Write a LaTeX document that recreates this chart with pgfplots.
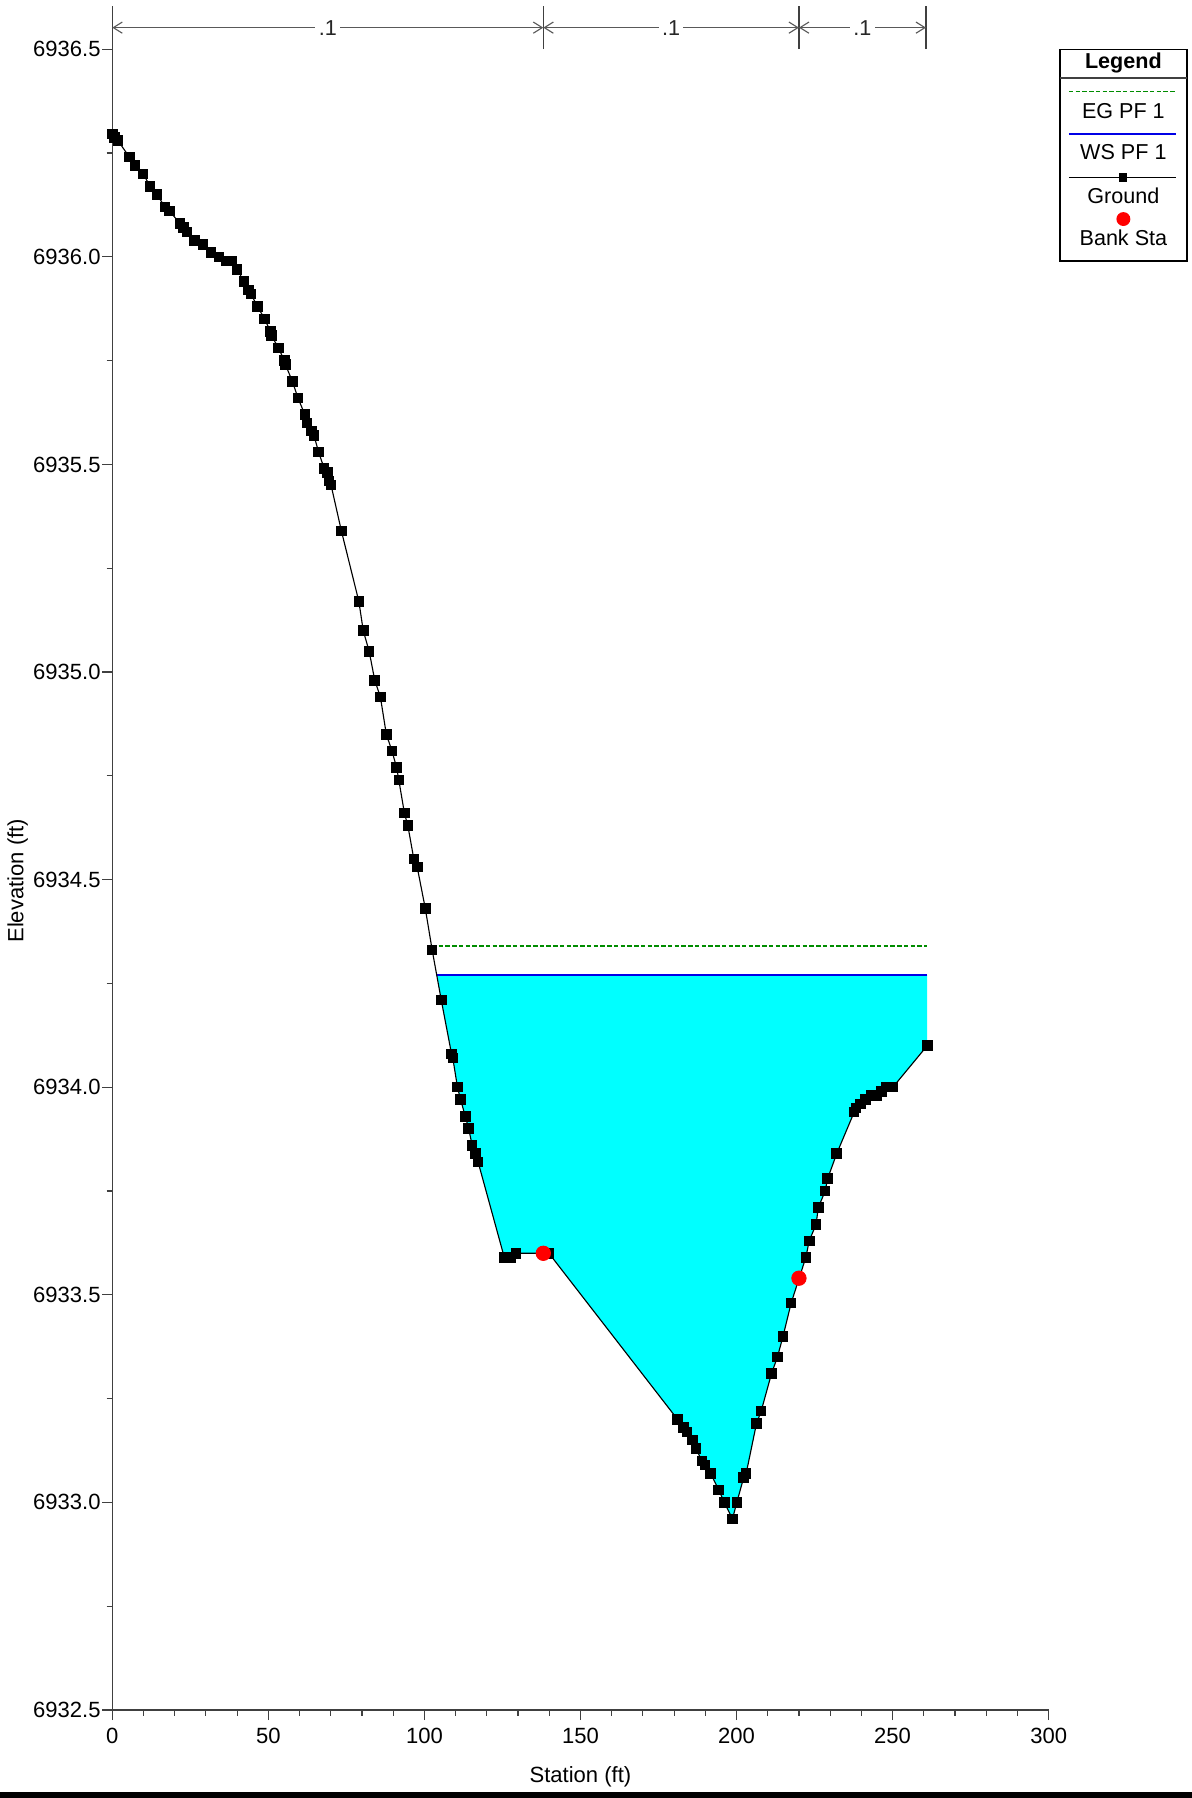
\documentclass[border=0pt]{standalone}
\usepackage{fontspec}
\setmainfont{Liberation Sans}
\usepackage{pgfplots}
\usepackage{pgfplotstable}
\pgfplotsset{compat=1.18}
\usetikzlibrary{arrows.meta}
\definecolor{wsfill}{RGB}{0,255,255}
\definecolor{eggreen}{RGB}{0,140,0}
\definecolor{wsblue}{RGB}{0,0,230}

\pgfplotstableread{
x y
0 6936.296
0.7 6936.287
1.8 6936.28
5.5 6936.24
7.3 6936.22
9.9 6936.20
12.1 6936.17
14.3 6936.15
16.9 6936.12
18.4 6936.11
21.7 6936.08
22.8 6936.07
23.9 6936.06
26.4 6936.04
29.0 6936.03
31.6 6936.01
34.2 6936.00
36.4 6935.99
38.2 6935.99
40.0 6935.97
42.2 6935.94
43.7 6935.92
44.4 6935.91
46.6 6935.88
48.8 6935.85
50.7 6935.82
51.0 6935.81
53.3 6935.78
55.1 6935.75
55.5 6935.74
57.7 6935.70
59.5 6935.66
61.7 6935.62
62.4 6935.60
63.9 6935.58
64.6 6935.57
66.1 6935.53
67.9 6935.49
69.0 6935.48
69.4 6935.46
70.1 6935.45
73.4 6935.34
79.0 6935.17
80.4 6935.10
82.3 6935.05
84.1 6934.98
85.9 6934.94
87.8 6934.85
89.6 6934.81
91.1 6934.77
91.8 6934.74
93.6 6934.66
94.7 6934.63
96.6 6934.55
97.7 6934.53
100.3 6934.43
102.5 6934.33
105.4 6934.21
108.7 6934.08
109.1 6934.07
110.6 6934.00
111.6 6933.97
113.1 6933.93
114.2 6933.90
115.3 6933.86
116.4 6933.84
117.2 6933.82
125.6 6933.59
127.8 6933.59
129.3 6933.60
139.9 6933.60
181.1 6933.20
183.0 6933.18
184.1 6933.17
185.9 6933.15
187.0 6933.13
188.9 6933.10
189.9 6933.09
191.7 6933.07
194.3 6933.03
196.1 6933.00
198.7 6932.96
200.1 6933.00
202.3 6933.06
203.1 6933.07
206.4 6933.19
207.9 6933.22
211.2 6933.31
213.1 6933.35
214.9 6933.40
217.5 6933.48
222.2 6933.59
223.3 6933.63
225.5 6933.67
226.2 6933.71
228.4 6933.75
229.2 6933.78
232.1 6933.84
237.7 6933.94
238.3 6933.95
239.8 6933.96
241.3 6933.97
243.1 6933.98
244.9 6933.98
246.4 6933.99
247.9 6934.00
249.0 6934.00
250.1 6934.00
261.1 6934.10
}\ground

\pgfplotstableread{
x y
104.0 6934.271
105.4 6934.21
108.7 6934.08
109.1 6934.07
110.6 6934.00
111.6 6933.97
113.1 6933.93
114.2 6933.90
115.3 6933.86
116.4 6933.84
117.2 6933.82
125.6 6933.59
127.8 6933.59
129.3 6933.60
139.9 6933.60
181.1 6933.20
183.0 6933.18
184.1 6933.17
185.9 6933.15
187.0 6933.13
188.9 6933.10
189.9 6933.09
191.7 6933.07
194.3 6933.03
196.1 6933.00
198.7 6932.96
200.1 6933.00
202.3 6933.06
203.1 6933.07
206.4 6933.19
207.9 6933.22
211.2 6933.31
213.1 6933.35
214.9 6933.40
217.5 6933.48
222.2 6933.59
223.3 6933.63
225.5 6933.67
226.2 6933.71
228.4 6933.75
229.2 6933.78
232.1 6933.84
237.7 6933.94
238.3 6933.95
239.8 6933.96
241.3 6933.97
243.1 6933.98
244.9 6933.98
246.4 6933.99
247.9 6934.00
249.0 6934.00
250.1 6934.00
261.1 6934.10
261.1 6934.271
}\water

\begin{document}
\begin{tikzpicture}[font=\fontsize{9.6}{11.5}\selectfont]
\path[use as bounding box] (-49.97pt,-39.16pt) rectangle (480.47pt,761.0pt);
\fill[black] (-49.97pt,-39.16pt) rectangle (480.47pt,-36.6pt);
\begin{axis}[
  at={(0pt,0pt)}, anchor=south west,
  scale only axis, width=416.7pt, height=758.3pt,
  xmin=0, xmax=300, ymin=6932.5, ymax=6936.604,
  axis lines=left,
  axis line style={-, black!75, line width=0.5pt},
  clip=false,
  xtick={0,50,100,150,200,250,300},
  minor x tick num=4,
  ytick={6932.5,6933.0,6933.5,6934.0,6934.5,6935.0,6935.5,6936.0,6936.5},
  minor y tick num=1,
  tick align=outside,
  major tick length=4.5pt,
  minor tick length=2.5pt,
  tick style={black!75, line width=0.5pt},
  /pgf/number format/assume math mode=true,
  yticklabel style={xshift=2.8pt, /pgf/number format/.cd, fixed, fixed zerofill, precision=1, 1000 sep={}},
  xticklabel style={/pgf/number format/.cd, fixed, precision=0, 1000 sep={}},
  ticklabel style={font=\fontsize{9.8}{12}\selectfont},
  xlabel={Station (ft)},
  ylabel={Elevation (ft)},
  every axis x label/.style={at={(axis description cs:0.5,-0.0390)}, anchor=center, font=\fontsize{9.8}{12}\selectfont},
  every axis y label/.style={at={(axis description cs:-0.101,0.4866)}, rotate=90, anchor=center, font=\fontsize{9.8}{12}\selectfont},
]
% water fill
\addplot[fill=wsfill, draw=none, forget plot] table[x=x,y=y] {\water} -- cycle;
% EG
\addplot[eggreen, dashed, dash pattern=on 2pt off 1pt, line width=0.5pt] coordinates {(102.4,6934.34) (261.1,6934.34)};
% WS
\addplot[wsblue, line width=0.8pt] coordinates {(104.0,6934.271) (261.1,6934.271)};
% Ground
\addplot[black, line width=0.5pt, mark=square*, mark size=2.1pt, mark options={fill=black}] table[x=x,y=y] {\ground};
% Bank stations
\addplot[only marks, mark=*, mark size=3.2pt, color=red, fill=red] coordinates {(138.1,6933.60) (220.0,6933.54)};

% Manning's n dimension lines
\draw[black!75, line width=0.5pt] (axis cs:138.1,6936.5) -- (axis cs:138.1,6936.604);
\draw[black!75, line width=0.5pt] (axis cs:220.0,6936.5) -- (axis cs:220.0,6936.604);
\draw[black!75, line width=0.5pt] (axis cs:260.7,6936.5) -- (axis cs:260.7,6936.604);
\draw[black!65, line width=0.5pt, {Straight Barb[length=4pt,width=5pt]}-{Straight Barb[length=4pt,width=5pt]}]
  (axis cs:0,6936.552) -- (axis cs:138.1,6936.552) node[midway, fill=white, inner sep=1.5pt, text=black!85] {.1};
\draw[black!65, line width=0.5pt, {Straight Barb[length=4pt,width=5pt]}-{Straight Barb[length=4pt,width=5pt]}]
  (axis cs:138.1,6936.552) -- (axis cs:220.0,6936.552) node[midway, fill=white, inner sep=1.5pt, text=black!85] {.1};
\draw[black!65, line width=0.5pt, {Straight Barb[length=4pt,width=5pt]}-{Straight Barb[length=4pt,width=5pt]}]
  (axis cs:220.0,6936.552) -- (axis cs:260.7,6936.552) node[midway, fill=white, inner sep=1.5pt, text=black!85] {.1};

% Legend
\draw[black, line width=0.6pt] (axis cs:303.6,6936.5) rectangle (axis cs:344.3,6935.99);
\draw[black!75, line width=0.6pt] (axis cs:303.6,6936.431) -- (axis cs:344.3,6936.431);
\node at (axis cs:323.95,6936.466) {\bfseries Legend};
\draw[eggreen, dash pattern=on 2pt off 1pt, line width=0.5pt] (axis cs:306.5,6936.398) -- (axis cs:340.8,6936.398);
\node at (axis cs:323.95,6936.351) {EG PF 1};
\draw[wsblue, line width=0.6pt] (axis cs:306.5,6936.296) -- (axis cs:340.8,6936.296);
\node at (axis cs:323.95,6936.253) {WS PF 1};
\draw[black, line width=0.5pt] (axis cs:306.5,6936.191) -- (axis cs:340.8,6936.191);
\node[fill=black, minimum size=3.6pt, inner sep=0pt] at (axis cs:323.95,6936.191) {};
\node at (axis cs:323.95,6936.147) {Ground};
\node[circle, fill=red, minimum size=6.2pt, inner sep=0pt] at (axis cs:323.95,6936.091) {};
\node at (axis cs:323.95,6936.045) {Bank Sta};
\end{axis}
\end{tikzpicture}
\end{document}
